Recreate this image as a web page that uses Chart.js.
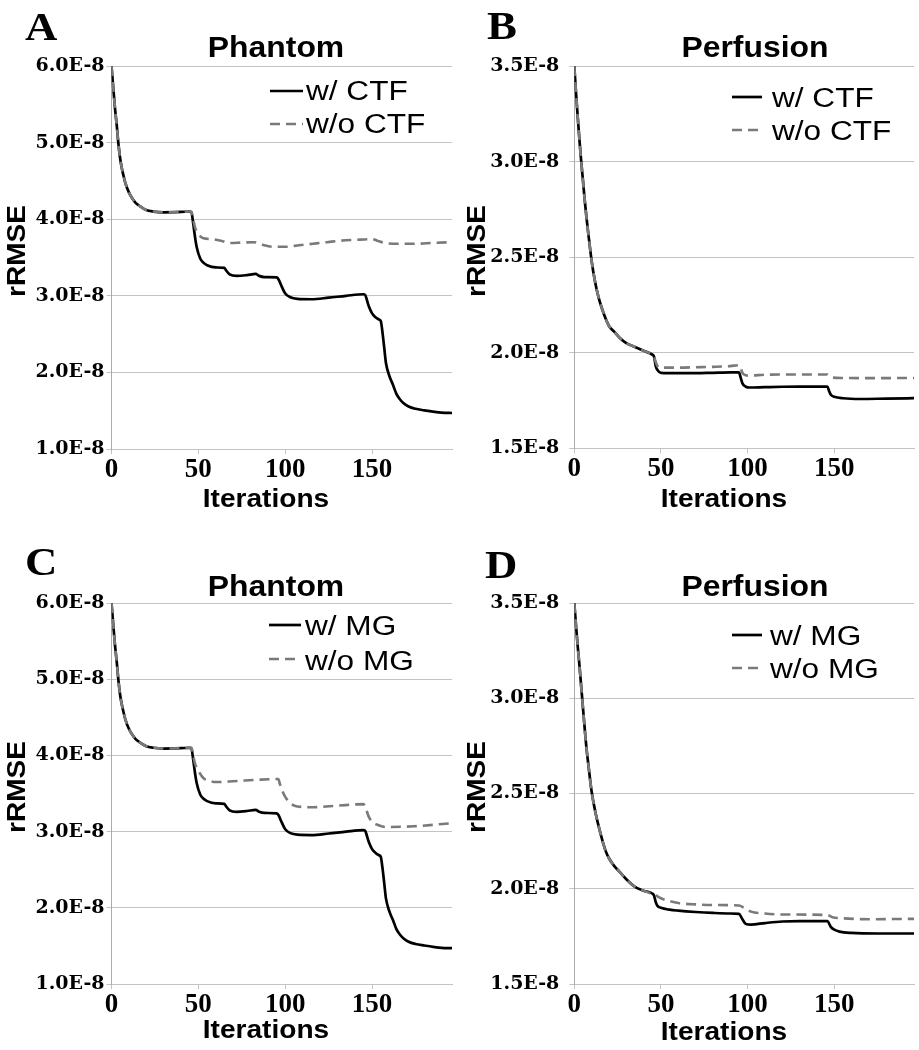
<!DOCTYPE html>
<html><head><meta charset="utf-8">
<script src="https://cdn.jsdelivr.net/npm/chart.js@4.4.1/dist/chart.umd.min.js"></script>
<style>
html,body{margin:0;padding:0;background:#fff;}
#wrap{position:relative;width:919px;height:1050px;overflow:hidden;background:#fff;}
canvas{position:absolute;}
</style></head><body><div id="wrap">
<canvas id="cA" width="460" height="525" style="left:0;top:0"></canvas>
<canvas id="cB" width="459" height="525" style="left:460px;top:0"></canvas>
<canvas id="cC" width="460" height="525" style="left:0;top:525px"></canvas>
<canvas id="cD" width="459" height="525" style="left:460px;top:525px"></canvas>
</div>
<script>
// ---------- DATA (rRMSE in units of 1E-8, x = iteration) ----------
const xTickLabels = [0, 50, 100, 150];
const phantomTicks = [1.0, 2.0, 3.0, 4.0, 5.0, 6.0];
const perfusionTicks = [1.5, 2.0, 2.5, 3.0, 3.5];

// Phantom: shared start (both curves coincide)
const phantomStartIter = [0,1,2,3,4,5,6,7,8,10,12,14,17,20,24,30,40,45];
const phantomStartVal  = [6.00,5.72,5.45,5.23,4.98,4.79,4.66,4.56,4.47,4.35,4.27,4.21,4.16,4.12,4.10,4.09,4.095,4.10];
// Phantom, full method (w/ CTF = w/ MG)
const phantomWithIter = [46,47,48,49,51,53,55,60,65,66,68,72,78,83,85,88,95,96,98,100,103,107,115,125,135,145,146,148,150,152,154,155,156,157,158,160,162,164,166,168,171,175,180,186,190,196];
const phantomWithVal  = [4.09,3.95,3.78,3.64,3.49,3.43,3.40,3.37,3.365,3.33,3.28,3.26,3.27,3.285,3.26,3.245,3.24,3.22,3.12,3.03,2.98,2.96,2.955,2.975,3.00,3.02,3.01,2.87,2.77,2.72,2.69,2.67,2.52,2.32,2.12,1.95,1.84,1.72,1.65,1.60,1.555,1.525,1.505,1.485,1.475,1.47];
// Phantom w/o CTF
const phantomNoCtfIter = [46,47,48,49,51,53,58,63,68,75,82,87,93,100,108,116,124,132,140,150,153,157,165,175,185,196];
const phantomNoCtfVal  = [4.09,4.00,3.90,3.84,3.78,3.75,3.74,3.72,3.69,3.695,3.70,3.665,3.64,3.64,3.66,3.68,3.70,3.72,3.73,3.74,3.72,3.69,3.68,3.68,3.69,3.70];
// Phantom w/o MG
const phantomNoMgIter = [46,47,48,49,51,53,56,60,70,84,96,97,99,101,103,107,116,130,145,146,148,150,153,158,174,196];
const phantomNoMgVal  = [4.10,4.00,3.90,3.84,3.76,3.70,3.67,3.65,3.66,3.68,3.69,3.62,3.50,3.42,3.37,3.33,3.32,3.34,3.36,3.33,3.20,3.13,3.09,3.06,3.07,3.11];

// Perfusion (B): shared start
const perfBStartIter = [0,1,2,3,4,5,6,7,8,10,12,14,16,18,20,23,26,30,35,40,45];
const perfBStartVal  = [3.50,3.36,3.23,3.11,3.00,2.90,2.80,2.71,2.63,2.48,2.37,2.29,2.23,2.18,2.14,2.11,2.08,2.05,2.03,2.01,1.99];
const perfBWithIter = [46,47,48,50,60,70,80,90,95,96,97,99,101,110,120,130,140,146,147,148,150,155,165,180,196];
const perfBWithVal  = [1.98,1.93,1.91,1.895,1.893,1.893,1.895,1.897,1.897,1.87,1.84,1.822,1.818,1.82,1.822,1.823,1.823,1.823,1.80,1.78,1.77,1.762,1.758,1.76,1.762];
const perfBNoCtfIter = [46,47,48,50,60,70,80,90,95,96,97,99,101,110,120,140,146,147,149,155,170,196];
const perfBNoCtfVal  = [1.98,1.95,1.93,1.922,1.922,1.924,1.926,1.93,1.935,1.92,1.895,1.882,1.88,1.885,1.886,1.886,1.886,1.878,1.87,1.868,1.867,1.868];

// Perfusion (D): shared start
const perfDStartIter = [0,1,2,3,4,5,6,7,8,10,12,14,16,18,20,23,26,30,35,40,45];
const perfDStartVal  = [3.50,3.38,3.27,3.17,3.06,2.95,2.84,2.74,2.66,2.51,2.41,2.33,2.26,2.20,2.16,2.12,2.09,2.05,2.01,1.99,1.975];
const perfDWithIter = [46,47,48,50,55,60,70,80,90,95,97,99,102,110,120,130,140,146,148,150,153,160,175,196];
const perfDWithVal  = [1.965,1.93,1.91,1.90,1.89,1.885,1.878,1.873,1.87,1.868,1.84,1.815,1.812,1.82,1.828,1.83,1.83,1.83,1.80,1.785,1.775,1.768,1.765,1.765];
const perfDNoMgIter = [46,48,50,55,60,70,80,95,98,102,110,120,146,149,155,170,196];
const perfDNoMgVal  = [1.975,1.96,1.95,1.935,1.925,1.918,1.915,1.912,1.90,1.88,1.87,1.865,1.862,1.85,1.845,1.84,1.842];

// ---------- helpers ----------
function toXY(iters, vals) { return iters.map((x, i) => ({ x: x, y: vals[i] })); }
function series(startI, startV, tailI, tailV) { return toXY(startI.concat(tailI), startV.concat(tailV)); }

const panelTextPlugin = {
  id: 'panelText',
  afterDraw(chart, args, o) {
    const ctx = chart.ctx;
    const draw = (text, x, y, font, sx, align, rot) => {
      ctx.save();
      ctx.translate(x, y);
      if (rot) ctx.rotate(rot);
      ctx.scale(sx, 1);
      ctx.font = font;
      ctx.fillStyle = '#000';
      ctx.textAlign = align;
      ctx.textBaseline = 'alphabetic';
      ctx.fillText(text, 0, 0);
      ctx.restore();
    };
    draw(o.letter, o.letterX, o.letterY, 'bold 40px "Liberation Serif"', 1.12, 'left');
    draw(o.title, o.titleX, o.titleY, 'bold 29px "Liberation Sans"', 1.1, 'center');
    draw('Iterations', o.xTitleX, o.xTitleY, 'bold 26px "Liberation Sans"', 1.08, 'center');
    draw('rRMSE', o.yTitleX, o.yTitleY, 'bold 25px "Liberation Sans"', 1.12, 'center', -Math.PI / 2);
    const L = o.legend;
    chart.data.datasets.forEach((ds, i) => {
      const row = L.rows[i];
      ctx.save();
      ctx.strokeStyle = ds.borderColor;
      ctx.lineWidth = ds.borderWidth;
      ctx.setLineDash(ds.borderDash || []);
      ctx.beginPath();
      ctx.moveTo(L.x0, row[0]);
      ctx.lineTo(L.x1, row[0]);
      ctx.stroke();
      ctx.restore();
      draw(ds.label, L.tx, row[1], '27px "Liberation Sans"', 1.17, 'left');
    });
  }
};

function makeChart(id, cfg) {
  const W = cfg.w, H = cfg.h, P = cfg.plot;
  new Chart(document.getElementById(id), {
    type: 'line',
    data: {
      datasets: [
        { label: cfg.labels[0], data: cfg.withData, borderColor: '#000000', borderWidth: 2.7, order: 2 },
        { label: cfg.labels[1], data: cfg.withoutData, borderColor: '#7a7a7a', borderWidth: 2.6, borderDash: [10, 6], order: 1 }
      ]
    },
    options: {
      responsive: false, animation: false, devicePixelRatio: 1,
      layout: { padding: { left: 0, top: P.top, right: W - P.right, bottom: 0 } },
      elements: {
        point: { radius: 0, hoverRadius: 0 },
        line: { tension: 0.4, cubicInterpolationMode: 'monotone', borderCapStyle: 'butt', borderJoinStyle: 'round', fill: false }
      },
      plugins: { legend: { display: false }, tooltip: { enabled: false }, title: { display: false }, panelText: cfg.text },
      scales: {
        x: {
          type: 'linear', min: 0, max: 196,
          afterFit(s) { s.height = H - P.bottom; },
          afterBuildTicks(s) { s.ticks = xTickLabels.map(v => ({ value: v })); },
          ticks: { stepSize: 50, includeBounds: false, autoSkip: false, maxRotation: 0, padding: 0, color: '#000',
                   font: { family: 'Liberation Serif', weight: 'bold', size: 27 } },
          grid: { display: true, drawOnChartArea: false, tickLength: 5, color: '#c3c3c3' },
          border: { display: true, color: '#c3c3c3' }
        },
        y: {
          min: cfg.yTicks[0], max: cfg.yTicks[cfg.yTicks.length - 1],
          afterFit(s) { s.width = P.left; },
          afterBuildTicks(s) { s.ticks = cfg.yTicks.map(v => ({ value: v })); },
          ticks: { autoSkip: false, padding: cfg.yPad, color: '#000',
                   callback: v => v.toFixed(1) + 'E-8',
                   font: { family: 'DejaVu Serif', weight: 'bold', size: 19 } },
          grid: { color: '#c3c3c3', tickLength: 5 },
          border: { display: true, color: '#ababab' }
        }
      }
    },
    plugins: [panelTextPlugin]
  });
}

makeChart('cA', {
  w: 460, h: 525, plot: { left: 111.5, top: 66, right: 452, bottom: 449 }, yPad: 2,
  yTicks: phantomTicks, labels: ['w/ CTF', 'w/o CTF'],
  withData: series(phantomStartIter, phantomStartVal, phantomWithIter, phantomWithVal),
  withoutData: series(phantomStartIter, phantomStartVal, phantomNoCtfIter, phantomNoCtfVal),
  text: { letter: 'A', letterX: 25, letterY: 40, title: 'Phantom', titleX: 276, titleY: 57,
          xTitleX: 266, xTitleY: 507, yTitleX: 25, yTitleY: 251,
          legend: { x0: 270, x1: 303, tx: 306, rows: [[91, 100], [124, 133]] } }
});
makeChart('cB', {
  w: 459, h: 525, plot: { left: 114.3, top: 66, right: 454, bottom: 448.3 }, yPad: 10,
  yTicks: perfusionTicks, labels: ['w/ CTF', 'w/o CTF'],
  withData: series(perfBStartIter, perfBStartVal, perfBWithIter, perfBWithVal),
  withoutData: series(perfBStartIter, perfBStartVal, perfBNoCtfIter, perfBNoCtfVal),
  text: { letter: 'B', letterX: 27, letterY: 39, title: 'Perfusion', titleX: 295, titleY: 57,
          xTitleX: 264, xTitleY: 507, yTitleX: 25, yTitleY: 251,
          legend: { x0: 272, x1: 302, tx: 312, rows: [[97, 107], [130, 140]] } }
});
makeChart('cC', {
  w: 460, h: 525, plot: { left: 111.5, top: 78, right: 452, bottom: 459 }, yPad: 2,
  yTicks: phantomTicks, labels: ['w/ MG', 'w/o MG'],
  withData: series(phantomStartIter, phantomStartVal, phantomWithIter, phantomWithVal),
  withoutData: series(phantomStartIter, phantomStartVal, phantomNoMgIter, phantomNoMgVal),
  text: { letter: 'C', letterX: 25, letterY: 50, title: 'Phantom', titleX: 276, titleY: 71,
          xTitleX: 266, xTitleY: 513, yTitleX: 25, yTitleY: 262,
          legend: { x0: 269, x1: 301, tx: 305, rows: [[100, 110], [134, 145]] } }
});
makeChart('cD', {
  w: 459, h: 525, plot: { left: 114.3, top: 78, right: 454, bottom: 459 }, yPad: 10,
  yTicks: perfusionTicks, labels: ['w/ MG', 'w/o MG'],
  withData: series(perfDStartIter, perfDStartVal, perfDWithIter, perfDWithVal),
  withoutData: series(perfDStartIter, perfDStartVal, perfDNoMgIter, perfDNoMgVal),
  text: { letter: 'D', letterX: 25, letterY: 53, title: 'Perfusion', titleX: 295, titleY: 71,
          xTitleX: 264, xTitleY: 515, yTitleX: 25, yTitleY: 262,
          legend: { x0: 272, x1: 302, tx: 310, rows: [[110, 120], [143, 153]] } }
});
</script>
</body></html>
